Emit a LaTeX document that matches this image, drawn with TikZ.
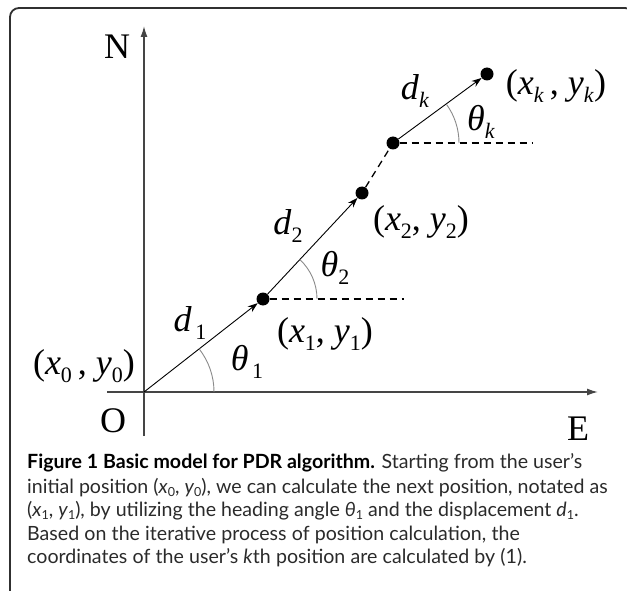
\documentclass[tikz,border=0pt]{standalone}
\usepackage{fontspec}
\setmainfont{Lato}
\newfontfamily\tms{Liberation Serif}
\usetikzlibrary{arrows.meta}
\definecolor{axisc}{HTML}{454545}
\definecolor{arcc}{HTML}{8A8A8A}
\definecolor{framec}{HTML}{303030}
\definecolor{capc}{HTML}{2A2A2A}
\newcommand\lsub[1]{\raisebox{-8pt}{\fontsize{22}{22}\selectfont #1}}
\newcommand\csub[1]{\raisebox{-3pt}{\fontsize{12.5}{12.5}\selectfont #1}}
\newcommand\widesp{\spaceskip=5.2pt\relax}
\tikzset{
  frame/.style={draw=framec,line width=1.8pt,rounded corners=9pt},
  axisline/.style={draw=axisc,line width=1.4pt,-{Latex[length=11pt,width=7pt]}},
  dotnode/.style={circle,fill=black,inner sep=0pt,minimum size=13pt},
  seg/.style={draw=black,line width=0.9pt,-{Stealth[length=10pt,width=7pt]}},
  dashseg/.style={draw=black,line width=1.3pt,dash pattern=on 7pt off 5pt},
  anglearc/.style={draw=arcc,line width=0.9pt},
  lab/.style={font=\tms\fontsize{36}{36}\selectfont,inner sep=0pt},
  axlab/.style={font=\tms\fontsize{36}{36}\selectfont,inner sep=0pt},
  capline/.style={anchor=west,inner sep=0pt,text=capc,font=\fontsize{19.6}{23}\selectfont}
}
\begin{document}
\begin{tikzpicture}[x=1pt,y=-1pt]
\useasboundingbox (0,0) rectangle (627,591);
\begin{scope}
  \clip (0,0) rectangle (627,591);
  \draw[frame] (10,8) rectangle (634,600);
\end{scope}
% axes
\coordinate (O) at (144,392);
\coordinate (Ntop) at (144,26);
\coordinate (Nbot) at (144,436);
\coordinate (Wend) at (107,392);
\coordinate (Eend) at (598,392);
\draw[axisline] (Nbot) -- (Ntop);
\draw[axisline] (Wend) -- (Eend);
% points
\node[dotnode] (P1) at (263,299) {};
\node[dotnode] (P2) at (362,193) {};
\node[dotnode] (Pk1) at (393,143) {};
\node[dotnode] (Pk) at (487,74) {};
\coordinate (H1) at (404,299);
\coordinate (Hk) at (533,143);
% segments
\draw[seg] (O) -- (P1);
\draw[seg] (P1) -- (P2);
\draw[dashseg] (P2) -- (Pk1);
\draw[seg] (Pk1) -- (Pk);
\draw[dashseg] (P1) -- (H1);
\draw[dashseg] (Pk1) -- (Hk);
% angle arcs
\draw[anglearc] (O) ++(70,0) arc[start angle=0,end angle=-38,radius=70];
\draw[anglearc] (P1) ++(54,0) arc[start angle=0,end angle=-47,radius=54];
\draw[anglearc] (Pk1) ++(66,0) arc[start angle=0,end angle=-36,radius=66];
% axis labels
\node[axlab] (Nl) at (117,47) {N};
\node[axlab] (Ol) at (113,421) {O};
\node[axlab] (El) at (578,429) {E};
% labels
\node[lab] (x0) at (84,366) {(\textit{x}\lsub{0}\,, \textit{y}\lsub{0})};
\node[lab] (d1) at (190,323) {\textit{d}\lsub{\,1}};
\node[lab] (t1) at (247,362) {\textit{θ}\lsub{\,1}};
\node[lab] (x1) at (325,334) {(\textit{x}\lsub{1}, \textit{y}\lsub{1})};
\node[lab] (d2) at (288,226) {\textit{d}\lsub{2}};
\node[lab] (t2) at (335,268) {\textit{θ}\lsub{2}};
\node[lab] (x2) at (421,222) {(\textit{x}\lsub{2}, \textit{y}\lsub{2})};
\node[lab] (dk) at (415,91) {\textit{d}\lsub{\textit{k}}};
\node[lab] (tk) at (481,122) {\textit{θ}\lsub{\textit{k}}};
\node[lab] (xk) at (556,86) {(\textit{x}\lsub{\textit{k}}\,, \textit{y}\lsub{\textit{k}})};
% caption
\node[capline] (c1) at (27,463) {\textcolor{black}{\textbf{Figure 1 Basic model for PDR algorithm.}} Starting from the user's};
\node[capline] (c2) at (27,488) {initial position (\textit{x}\csub{0}, \textit{y}\csub{0}), we can calculate the next position, notated as};
\node[capline] (c3) at (27,511) {(\textit{x}\csub{1}, \textit{y}\csub{1}), by utilizing the heading angle \textit{θ}\csub{1} and the displacement \textit{d}\csub{1}.};
\node[capline] (c4) at (27,535) {\widesp Based on the iterative process of position calculation, the};
\node[capline] (c5) at (27,558) {\widesp coordinates of the user's \textit{k}th position are calculated by (1).};
\end{tikzpicture}
\end{document}
